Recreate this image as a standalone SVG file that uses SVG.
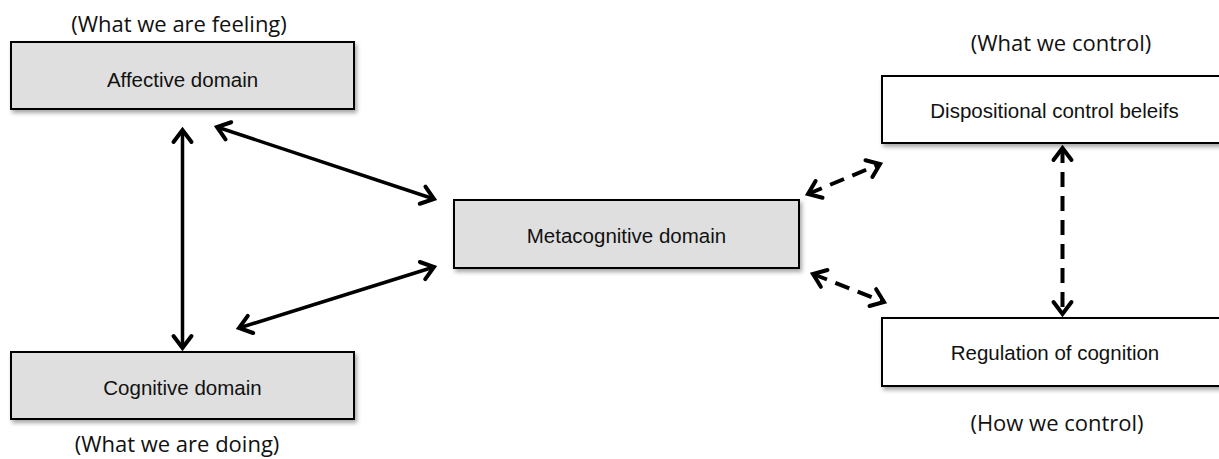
<svg xmlns="http://www.w3.org/2000/svg" width="1219" height="459" viewBox="0 0 1219 459">
<style>
.box{stroke:#000;stroke-width:2;filter:url(#sh)}
.gray{fill:#dfdfdf}
.white{fill:#fff}
.lbl{font-family:"Liberation Sans",Arial,sans-serif;font-size:20.5px;fill:#111;text-anchor:middle}
.cap{font-family:"Open Sans","Noto Sans",sans-serif;font-size:22px;fill:#111;text-anchor:middle}
.con{stroke:#000;stroke-width:3.5;fill:none;marker-start:url(#ah);marker-end:url(#ah)}
.dash{stroke-dasharray:15 9;stroke-width:4}
</style>
<defs>
<filter id="sh" x="-10%" y="-20%" width="130%" height="160%">
<feDropShadow dx="2" dy="3" stdDeviation="2" flood-color="#000" flood-opacity="0.35"/>
</filter>
<marker id="ah" markerUnits="userSpaceOnUse" viewBox="-18 -13 22 26" refX="0" refY="0" markerWidth="22" markerHeight="26" orient="auto-start-reverse">
<path d="M-12,-9 L0,0 L-12,9" fill="none" stroke="#000" stroke-width="4" stroke-dasharray="none" stroke-linecap="round"/>
</marker>
</defs>

<g id="affective">
<rect class="box gray" x="11" y="42" width="343" height="67"/>
<text class="lbl" x="182.5" y="87">Affective domain</text>
<text class="cap" x="179" y="32">(What we are feeling)</text>
</g>

<g id="cognitive">
<rect class="box gray" x="11" y="352" width="343" height="67"/>
<text class="lbl" x="182.5" y="395">Cognitive domain</text>
<text class="cap" x="177" y="452">(What we are doing)</text>
</g>

<g id="metacognitive">
<rect class="box gray" x="454" y="200" width="345" height="68"/>
<text class="lbl" x="626.5" y="243">Metacognitive domain</text>
</g>

<g id="dispositional">
<rect class="box white" x="882" y="76" width="344" height="67"/>
<text class="lbl" x="1054.5" y="118">Dispositional control beleifs</text>
<text class="cap" x="1061" y="51">(What we control)</text>
</g>

<g id="regulation">
<rect class="box white" x="882" y="318" width="344" height="68"/>
<text class="lbl" x="1055" y="360">Regulation of cognition</text>
<text class="cap" x="1057" y="431">(How we control)</text>
</g>

<g id="connectors">
<line class="con" x1="182.5" y1="130" x2="182.5" y2="348"/>
<line class="con" x1="217" y1="127" x2="434" y2="199"/>
<line class="con" x1="239" y1="328" x2="434" y2="267"/>
<line class="con dash" x1="808" y1="194" x2="880" y2="164"/>
<line class="con dash" x1="813" y1="274" x2="884" y2="302"/>
<line class="con dash" x1="1062.5" y1="148" x2="1062.5" y2="314"/>
</g>
</svg>
